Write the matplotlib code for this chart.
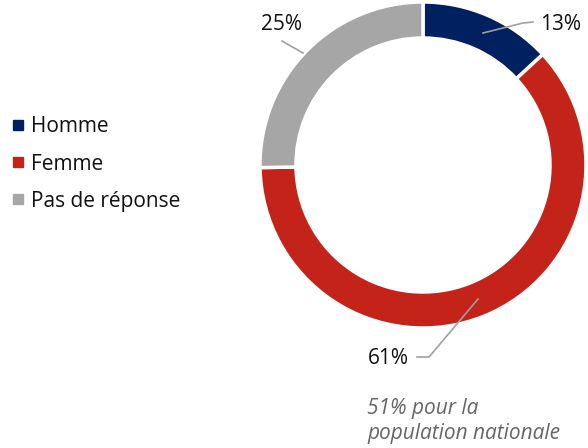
import matplotlib
matplotlib.use('Agg')
import matplotlib.pyplot as plt
from matplotlib.lines import Line2D

labels = ['Homme', 'Femme', 'Pas de réponse']
values = [13, 61, 25]
pct_labels = ['13%', '61%', '25%']
colors = ['#002060', '#c4231a', '#a6a6a6']
note = '51% pour la\npopulation nationale'

plt.rcParams['font.family'] = ['Open Sans', 'DejaVu Sans']

W, H = 588, 448
fig = plt.figure(figsize=(W / 100, H / 100), dpi=100)
ax = fig.add_axes([0, 0, 1, 1])

cx, cy, r = 423, H - 165, 163
wedges, _ = ax.pie(values, colors=colors, startangle=90, counterclock=False,
                   center=(cx, cy), radius=r, frame=True,
                   wedgeprops=dict(width=36, edgecolor='white', linewidth=2.5))
ax.set_xlim(0, W)
ax.set_ylim(0, H)
ax.set_aspect('equal')
ax.axis('off')

lc = '#a0a0a0'
def y(v):
    return H - v

fs = 15
# leader lines + labels
ax.plot([483, 523, 533], [y(33), y(23), y(22)], color=lc, lw=1.2)
ax.text(540, y(24), pct_labels[0], fontsize=fs, va='center', ha='left', color='#111111')
ax.plot([478, 429, 417], [y(299), y(357), y(357)], color=lc, lw=1.2)
ax.text(409, y(358), pct_labels[1], fontsize=fs, va='center', ha='right', color='#111111')
ax.plot([303, 282], [y(53), y(41)], color=lc, lw=1.2)
ax.text(282, y(24), pct_labels[2], fontsize=fs, va='center', ha='center', color='#111111')

ax.text(367, y(421), note, fontsize=fs, style='italic', color='#666666',
        va='center', ha='left', linespacing=1.25)

handles = [Line2D([], [], marker='s', linestyle='', markersize=6.5, color=c) for c in colors]
fig.legend(handles, labels, loc='center left', bbox_to_anchor=(0.0, y(164) / H),
           frameon=False, fontsize=fs, handlelength=0.5, handletextpad=0.4,
           labelspacing=0.78, labelcolor='#111111', borderaxespad=0.2)

fig.savefig('out.png', dpi=100)
